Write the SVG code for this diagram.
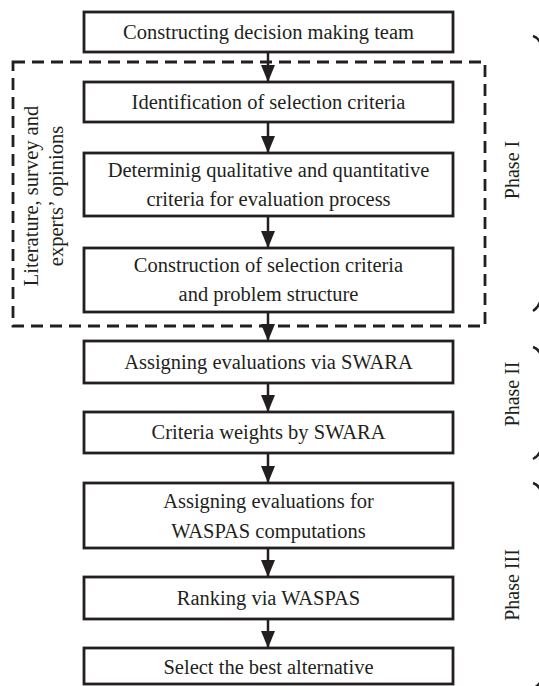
<svg xmlns="http://www.w3.org/2000/svg" width="539" height="686" viewBox="0 0 539 686">
<style>
.box{fill:#fff;stroke:#231f20;stroke-width:2.8}
.t{font-family:"Liberation Serif","Times New Roman",serif;font-size:20.5px;fill:#231f20;text-anchor:middle}
.p{font-family:"Liberation Serif","Times New Roman",serif;font-size:20px;fill:#231f20;text-anchor:middle}
.c{stroke:#231f20;stroke-width:2.5;fill:none}
.br{stroke:#231f20;stroke-width:2.4;fill:none}
</style>
<defs>
<marker id="ah" markerUnits="userSpaceOnUse" markerWidth="17" markerHeight="14" refX="17" refY="7" orient="auto" viewBox="0 0 17 14">
<path d="M0,0 L17,7 L0,14 z" fill="#231f20"/>
</marker>
</defs>
<rect width="539" height="686" fill="#fff"/>
<g id="group-phase1">
<rect x="13" y="62" width="472" height="264" fill="none" stroke="#231f20" stroke-width="2.8" stroke-dasharray="12,7"/>
<text class="t" transform="translate(38,196) rotate(-90)">Literature, survey and</text>
<text class="t" transform="translate(63,196) rotate(-90)">experts’ opinions</text>
</g>
<g id="connectors">
<line class="c" x1="268" y1="52" x2="268" y2="82" marker-end="url(#ah)"/>
<line class="c" x1="268" y1="122" x2="268" y2="153" marker-end="url(#ah)"/>
<line class="c" x1="268" y1="216" x2="268" y2="248" marker-end="url(#ah)"/>
<line class="c" x1="268" y1="312" x2="268" y2="341" marker-end="url(#ah)"/>
<line class="c" x1="268" y1="383" x2="268" y2="412" marker-end="url(#ah)"/>
<line class="c" x1="268" y1="453" x2="268" y2="483" marker-end="url(#ah)"/>
<line class="c" x1="268" y1="548" x2="268" y2="577" marker-end="url(#ah)"/>
<line class="c" x1="268" y1="619" x2="268" y2="648" marker-end="url(#ah)"/>
</g>
<g id="n1"><rect class="box" x="84" y="12" width="369" height="40"/><text class="t" x="268.5" y="39">Constructing decision making team</text></g>
<g id="n2"><rect class="box" x="84" y="82" width="369" height="40"/><text class="t" x="268.5" y="109">Identification of selection criteria</text></g>
<g id="n3"><rect class="box" x="84" y="153" width="369" height="63"/><text class="t" x="268.5" y="177">Determinig qualitative and quantitative</text><text class="t" x="268.5" y="206">criteria for evaluation process</text></g>
<g id="n4"><rect class="box" x="84" y="248" width="369" height="64"/><text class="t" x="268.5" y="272">Construction of selection criteria</text><text class="t" x="268.5" y="301">and problem structure</text></g>
<g id="n5"><rect class="box" x="84" y="341" width="369" height="42"/><text class="t" x="268.5" y="369">Assigning evaluations via SWARA</text></g>
<g id="n6"><rect class="box" x="84" y="412" width="369" height="41"/><text class="t" x="268.5" y="439">Criteria weights by SWARA</text></g>
<g id="n7"><rect class="box" x="84" y="483" width="369" height="65"/><text class="t" x="268.5" y="508">Assigning evaluations for</text><text class="t" x="268.5" y="538">WASPAS computations</text></g>
<g id="n8"><rect class="box" x="84" y="577" width="369" height="42"/><text class="t" x="268.5" y="605">Ranking via WASPAS</text></g>
<g id="n9"><rect class="box" x="84" y="648" width="369" height="36"/><text class="t" x="268.5" y="674">Select the best alternative</text></g>
<g id="phases">
<text class="p" transform="translate(519,170) rotate(-90)">Phase I</text>
<text class="p" transform="translate(519,394) rotate(-90)">Phase II</text>
<text class="p" transform="translate(519,585) rotate(-90)">Phase III</text>
<path class="br" d="M533,36 C539,38 542,44 542,52 L542,160 C542,168 546,172 552,172 C546,172 542,176 542,184 L542,290 C542,300 539,307 533,311"/>
<path class="br" d="M533,347 C539,349 542,354 542,362 L542,395 C542,400 546,403 552,403 C546,403 542,406 542,411 L542,442 C542,450 539,456 533,459"/>
<path class="br" d="M533,483 C539,485 542,490 542,498 L542,580 C542,586 546,589 552,589 C546,589 542,592 542,598 L542,676 C542,681 539,685 534,688"/>
</g>
</svg>
